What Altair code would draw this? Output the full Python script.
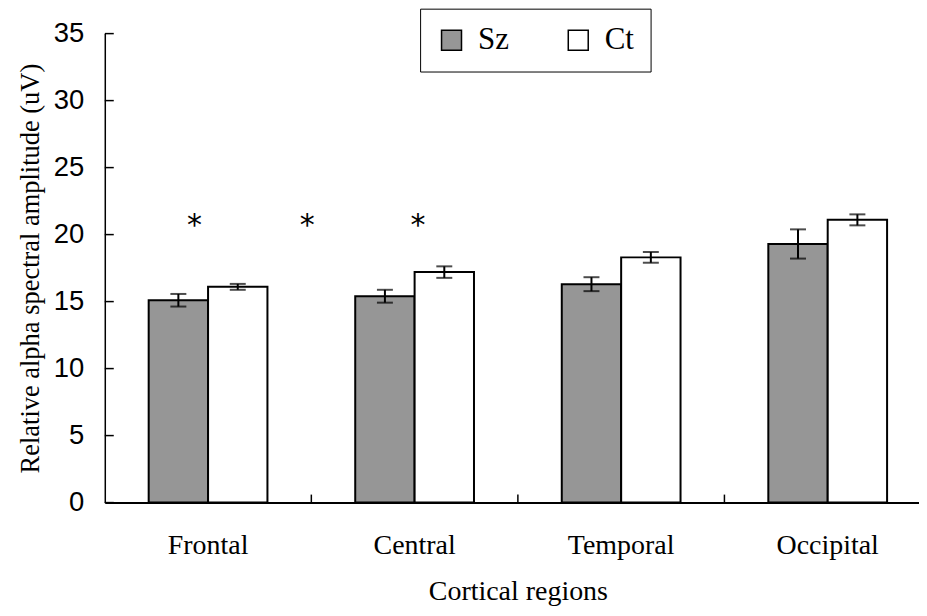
import altair as alt
import pandas as pd

# ---- data ----
regions = ["Frontal", "Central", "Temporal", "Occipital"]
groups = ["Sz", "Ct"]
sz_means = [15.1, 15.4, 16.3, 19.3]
sz_se = [0.47, 0.48, 0.52, 1.09]
ct_means = [16.1, 17.2, 18.3, 21.1]
ct_se = [0.22, 0.43, 0.40, 0.41]
y_tick_values = [0, 5, 10, 15, 20, 25, 30, 35]
star_regions = ["Frontal", "Frontal", "Central"]
star_level = 21.3
star_shift = [-13.5, 99.5, 3.5]  # pixel nudge of each asterisk from the group centre

rows = []
for i, r in enumerate(regions):
    rows.append({"region": r, "group": "Sz", "mean": sz_means[i], "se": sz_se[i]})
    rows.append({"region": r, "group": "Ct", "mean": ct_means[i], "se": ct_se[i]})
df = pd.DataFrame(rows)
df["lo"] = df["mean"] - df["se"]
df["hi"] = df["mean"] + df["se"]

ticks_df = pd.DataFrame({"v": y_tick_values})
xticks_df = pd.DataFrame({"region": regions[:-1]})

W_RANGE = 828
H = 470
YT = "Relative alpha spectral amplitude (uV)"
XT = "Cortical regions"
P_IN = 0.425
STEP = W_RANGE / len(regions)
SERIF = "Liberation Serif, Times New Roman, serif"
SANS = "Liberation Sans, Arial, sans-serif"

xscale = alt.Scale(range=[0, W_RANGE], paddingInner=P_IN, paddingOuter=P_IN / 2)
yscale = alt.Scale(domain=[0, 35], nice=False, zero=True)

xaxis = alt.Axis(
    labelAngle=0, ticks=False, domainColor="black", domainWidth=2,
    labelFont=SERIF, labelFontSize=28, labelColor="black",
    labelPadding=29, titleFont=SERIF, titleFontSize=28,
    titleFontWeight="normal", titleColor="black", titlePadding=18,
)
yaxis = alt.Axis(
    values=y_tick_values, ticks=False, grid=False, domainColor="black",
    domainWidth=1.5, labelFont=SANS, labelFontSize=27.5,
    labelColor="black", labelPadding=21, titleFont=SERIF,
    titleFontSize=26.5, titleFontWeight="normal", titleColor="black",
    titlePadding=9,
)

X = alt.X("region:N", sort=regions, scale=xscale, axis=xaxis, title=XT)
XO = alt.XOffset("group:N", sort=groups, scale=alt.Scale(paddingInner=0, paddingOuter=0))

base = alt.Chart(df)

bars = base.mark_bar(stroke="black", strokeWidth=2).encode(
    x=X,
    xOffset=XO,
    y=alt.Y("mean:Q", scale=yscale, axis=yaxis, title=YT),
    fill=alt.Fill(
        "group:N",
        sort=groups,
        scale=alt.Scale(domain=groups, range=["#969696", "#ffffff"]),
        legend=alt.Legend(
            title=None, orient="none", legendX=316, legendY=-25,
            direction="horizontal", padding=16, strokeColor="black",
            fillColor="white", symbolType="square", symbolSize=400,
            symbolStrokeColor="black", symbolStrokeWidth=1.5,
            labelFont=SERIF, labelFontSize=31,
            labelColor="black", labelOffset=11, columnPadding=54,
        ),
    ),
)

err = base.mark_rule(color="black", strokeWidth=2).encode(
    x=X, xOffset=XO,
    y=alt.Y("lo:Q", scale=yscale, title=YT), y2="hi:Q",
)
cap_hi = base.mark_tick(color="black", thickness=2, size=16).encode(
    x=X, xOffset=XO, y=alt.Y("hi:Q", scale=yscale, title=YT),
)
cap_lo = base.mark_tick(color="black", thickness=2, size=16).encode(
    x=X, xOffset=XO, y=alt.Y("lo:Q", scale=yscale, title=YT),
)

ytick_rules = alt.Chart(ticks_df).mark_rule(color="black", strokeWidth=1.5).encode(
    y=alt.Y("v:Q", scale=yscale, title=YT),
    x=alt.value(0), x2=alt.value(9),
)
xtick_rules = alt.Chart(xticks_df).mark_rule(
    color="black", strokeWidth=1.5, xOffset=STEP * P_IN / 2
).encode(
    x=alt.X("region:N", sort=regions, scale=xscale, title=XT, bandPosition=1),
    y=alt.value(H), y2=alt.value(H - 8),
)

layers = [bars, err, cap_hi, cap_lo, ytick_rules, xtick_rules]
for i, r in enumerate(star_regions):
    sdf = pd.DataFrame({"region": [r], "level": [star_level]})
    layers.append(
        alt.Chart(sdf).mark_text(
            text="*", font="DejaVu Sans", fontSize=30, color="black",
            dx=star_shift[i], dy=9,
        ).encode(
            x=alt.X("region:N", sort=regions, scale=xscale, title=XT),
            y=alt.Y("level:Q", scale=yscale, title=YT),
        )
    )

chart = alt.layer(*layers).properties(
    width=816,
    height=H,
    autosize=alt.AutoSizeParams(type="none"),
    padding={"left": 97, "top": 25, "right": 0, "bottom": 110},
).configure(background="white").configure_view(stroke=None)

chart.save("out.html", embed_options={"renderer": "svg", "actions": False})
